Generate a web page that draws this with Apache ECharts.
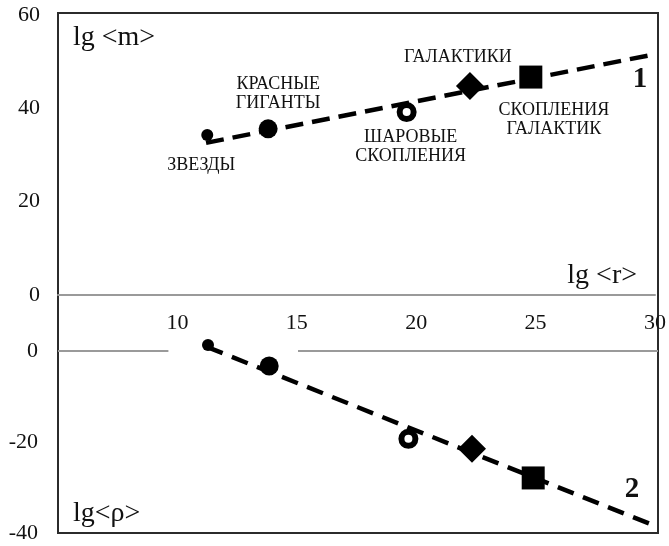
<!DOCTYPE html>
<html>
<head>
<meta charset="utf-8">
<script src="https://cdn.jsdelivr.net/npm/echarts@6/dist/echarts.min.js"></script>
<style>html,body{margin:0;padding:0;background:#fff}#c{width:669px;height:546px}</style>
</head>
<body>
<div id="c"></div>
<script>
// ---- data ----
const objects = ['ЗВЕЗДЫ', 'КРАСНЫЕ\nГИГАНТЫ', 'ШАРОВЫЕ\nСКОПЛЕНИЯ', 'ГАЛАКТИКИ', 'СКОПЛЕНИЯ\nГАЛАКТИК'];
const lgR   = [11.25, 13.8, 19.6, 22.25, 24.8];
const lgM   = [34.3, 35.6, 39.2, 44.8, 46.7];
const lgRho = [1.3, -3.3, -19.3, -21.5, -27.9];
const fit1R = [11.2, 30];
const fit1M = [32.6, 51.6];
const fit2R = [11.2, 30];
const fit2Rho = [0.9, -38.7];
const zeroSegR = [[5, 9.6], [15, 30]];
const xTicks = [10, 15, 20, 25, 30];
const mTicks = [0, 20, 40, 60];
const rhoTicks = [0, -20, -40];
const axisNames = ['lg <m>', 'lg <r>', 'lg<ρ>'];
const curveNames = ['1', '2'];

// ---- styles ----
const FONT = 'Liberation Serif, Times New Roman, serif';
const INK = '#111';
const symbolStyles = [
  { symbol: 'circle', symbolSize: 12 },
  { symbol: 'circle', symbolSize: 19 },
  { symbol: 'circle', symbolSize: 14, itemStyle: { color: '#fff', borderColor: '#000', borderWidth: 6 } },
  { symbol: 'diamond', symbolSize: [28, 28] },
  { symbol: 'rect', symbolSize: 23 }
];
const labelOffsets = [[-6, 30], [10, -35], [4, 35], [-12, -29], [23, 43]];

function pointData(ys, withLabels) {
  return objects.map((n, i) => {
    const s = symbolStyles[i];
    const item = {
      name: n,
      value: [lgR[i], ys[i]],
      symbol: s.symbol,
      symbolSize: s.symbolSize,
      itemStyle: Object.assign({ color: '#000', opacity: 1 }, s.itemStyle || {})
    };
    if (withLabels) {
      item.label = { show: true, formatter: n, offset: labelOffsets[i] };
    }
    return item;
  });
}

const tickFmt = (list) => (v) => list.includes(v) ? String(v) : '';
const labelStyle = { fontFamily: FONT, fontSize: 22, color: INK };

const chart = echarts.init(document.getElementById('c'), null, { renderer: 'canvas' });
chart.setOption({
  animation: false,
  backgroundColor: '#fff',
  grid: [
    { left: 58, right: 11, top: 15, height: 280 },
    { left: 58, right: 11, top: 351, height: 182 },
    { left: 58, right: 11, top: 13, bottom: 13, show: true, borderColor: '#2b2b2b', borderWidth: 2, backgroundColor: 'transparent' }
  ],
  xAxis: [
    { gridIndex: 0, type: 'value', min: 5, max: 30, interval: 5,
      axisLine: { show: true, lineStyle: { color: '#9a9a9a', width: 2 } },
      axisTick: { show: false }, splitLine: { show: false },
      axisLabel: Object.assign({ formatter: tickFmt(xTicks), margin: 17 }, labelStyle) },
    { gridIndex: 1, type: 'value', min: 5, max: 30, interval: 5, show: false },
    { gridIndex: 2, type: 'value', min: 0, max: 1, show: false }
  ],
  yAxis: [
    { gridIndex: 0, type: 'value', min: 0, max: 60, interval: 20,
      axisLine: { show: false }, axisTick: { show: false }, splitLine: { show: false },
      axisLabel: Object.assign({ formatter: tickFmt(mTicks), margin: 18 }, labelStyle) },
    { gridIndex: 1, type: 'value', min: -40, max: 0, interval: 20,
      axisLine: { show: false }, axisTick: { show: false }, splitLine: { show: false },
      axisLabel: Object.assign({ formatter: tickFmt(rhoTicks), margin: 20 }, labelStyle) },
    { gridIndex: 2, type: 'value', min: 0, max: 1, show: false }
  ],
  series: [
    { type: 'line', xAxisIndex: 0, yAxisIndex: 0, silent: true, showSymbol: false, z: 2, clip: false,
      data: fit1R.map((r, i) => [r, fit1M[i]]),
      lineStyle: { color: '#000', width: 4.5, type: [18, 9] } },
    { type: 'line', xAxisIndex: 1, yAxisIndex: 1, silent: true, showSymbol: false, z: 2, clip: false,
      data: fit2R.map((r, i) => [r, fit2Rho[i]]),
      lineStyle: { color: '#000', width: 4.5, type: [17, 10] } },
    { type: 'scatter', xAxisIndex: 0, yAxisIndex: 0, silent: true, z: 3, clip: false,
      data: pointData(lgM, true),
      label: { position: 'inside', fontFamily: FONT, fontSize: 18, color: INK, lineHeight: 19,
               align: 'center', verticalAlign: 'middle', textBorderWidth: 0 } },
    { type: 'scatter', xAxisIndex: 1, yAxisIndex: 1, silent: true, z: 3, clip: false,
      data: pointData(lgRho, false),
      markLine: { silent: true, symbol: 'none', label: { show: false },
        lineStyle: { color: '#9a9a9a', width: 2, type: 'solid' },
        data: zeroSegR.map(seg => [{ coord: [seg[0], 0] }, { coord: [seg[1], 0] }]) } }
  ],
  graphic: [
    { type: 'text', left: 73, top: 24, style: { text: axisNames[0], font: '28px ' + FONT, fill: INK } },
    { type: 'text', right: 32, top: 262, style: { text: axisNames[1], font: '28px ' + FONT, fill: INK } },
    { type: 'text', left: 73, top: 500, style: { text: axisNames[2], font: '28px ' + FONT, fill: INK } },
    { type: 'text', x: 640, y: 80, style: { text: curveNames[0], font: 'bold 29px ' + FONT, fill: INK, align: 'center', verticalAlign: 'middle' } },
    { type: 'text', x: 632, y: 490, style: { text: curveNames[1], font: 'bold 29px ' + FONT, fill: INK, align: 'center', verticalAlign: 'middle' } }
  ]
});
</script>
</body>
</html>
